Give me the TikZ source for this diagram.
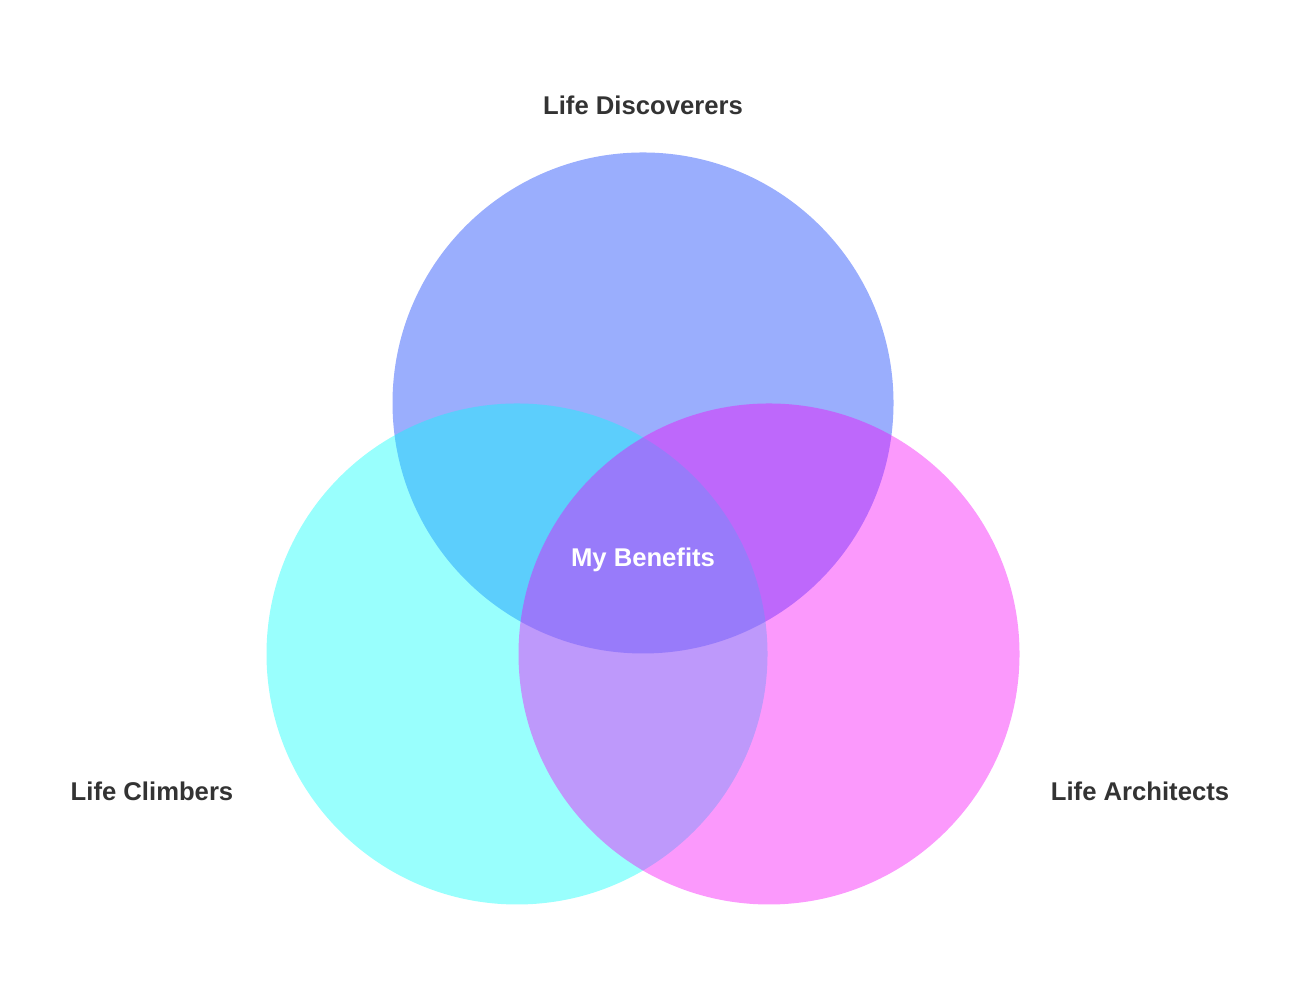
\documentclass[tikz,border=0pt]{standalone}
\usepackage{xcolor}
\usepackage{fontspec}
\setmainfont{Liberation Sans}
\usepackage{tikz}

\definecolor{discblue}{RGB}{2,52,250}
\definecolor{climbcyan}{RGB}{0,255,250}
\definecolor{archpink}{RGB}{245,0,248}
\definecolor{labelgray}{RGB}{51,51,51}

\tikzset{
  venn/.style={circle, minimum size=5.01cm, inner sep=0pt, fill opacity=0.4},
  setlabel/.style={text=labelgray, font=\fontsize{7.3}{9}\selectfont\bfseries}
}

\begin{document}
\begin{tikzpicture}
\useasboundingbox (0,0) rectangle (13,10);
\node[venn, fill=discblue] (discoverers) at (6.43,5.97) {};
\node[venn, fill=climbcyan] (climbers) at (5.17,3.46) {};
\node[venn, fill=archpink] (architects) at (7.69,3.46) {};
\node[setlabel] (discname) at (6.43,8.95) {Life Discoverers};
\node[setlabel] (climbname) at (1.52,2.09) {Life Climbers};
\node[setlabel] (archname) at (11.40,2.09) {Life Architects};
\node[setlabel, text=white] (benefits) at (6.43,4.40) {My Benefits};
\end{tikzpicture}
\end{document}
